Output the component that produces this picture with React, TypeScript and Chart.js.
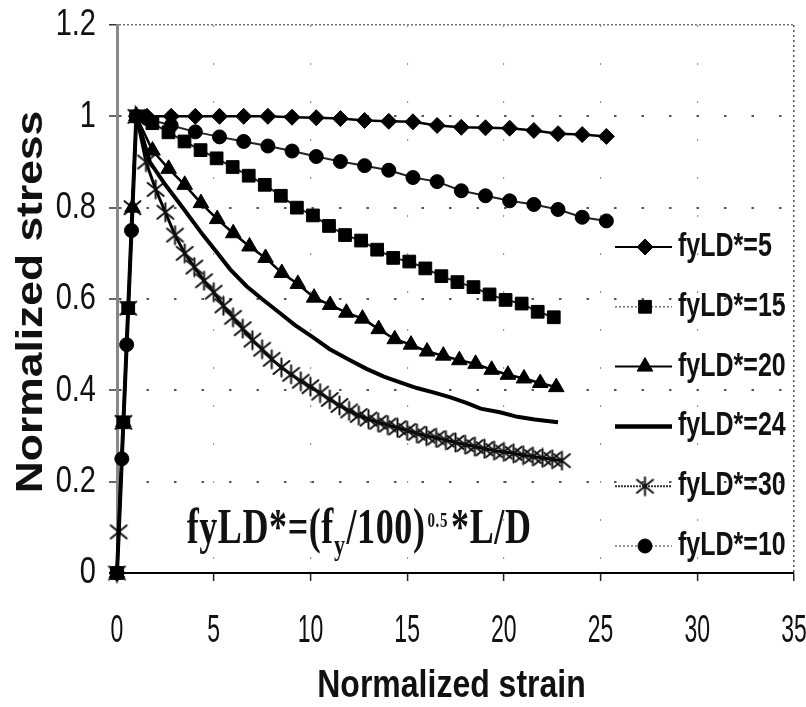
import React, { useEffect, useRef } from 'react';
import { Chart, registerables } from 'chart.js';
import { drawPoint } from 'chart.js/helpers';

Chart.register(...registerables);

// ---------- data ----------
const seriesLabels = ['fyLD*=5', 'fyLD*=15', 'fyLD*=20', 'fyLD*=24', 'fyLD*=30', 'fyLD*=10'];

const strain5 = [0, 1.0, 1.55, 2.8, 4.05, 5.3, 6.55, 7.8, 9.05, 10.3, 11.55, 12.8, 14.05, 15.3, 16.55, 17.8, 19.05, 20.3, 21.55, 22.8, 24.05, 25.3];
const stress5 = [0, 1.0, 1.0, 1.0, 1.0, 1.0, 1.0, 1.0, 0.998, 0.997, 0.995, 0.991, 0.989, 0.988, 0.98, 0.976, 0.975, 0.974, 0.969, 0.962, 0.96, 0.956];

const strain15 = [0, 0.33, 0.58, 1.0, 1.83, 2.66, 3.49, 4.32, 5.15, 5.98, 6.81, 7.64, 8.47, 9.3, 10.13, 10.96, 11.79, 12.62, 13.45, 14.28, 15.11, 15.94, 16.77, 17.6, 18.43, 19.26, 20.09, 20.92, 21.75, 22.58];
const stress15 = [0, 0.33, 0.58, 1.0, 0.985, 0.965, 0.945, 0.926, 0.908, 0.889, 0.87, 0.85, 0.826, 0.8, 0.783, 0.76, 0.74, 0.728, 0.708, 0.69, 0.682, 0.667, 0.65, 0.637, 0.626, 0.61, 0.598, 0.59, 0.572, 0.56];

const strain20 = [0, 0.33, 0.8, 1.0, 1.835, 2.67, 3.5, 4.34, 5.18, 6.01, 6.85, 7.68, 8.52, 9.35, 10.19, 11.02, 11.86, 12.69, 13.53, 14.36, 15.2, 16.03, 16.87, 17.7, 18.54, 19.37, 20.21, 21.04, 21.88, 22.71];
const stress20 = [0, 0.33, 0.8, 1.0, 0.925, 0.885, 0.85, 0.81, 0.775, 0.744, 0.715, 0.69, 0.657, 0.633, 0.603, 0.587, 0.57, 0.557, 0.534, 0.512, 0.5, 0.485, 0.476, 0.466, 0.458, 0.445, 0.434, 0.426, 0.416, 0.407];

const strain24 = [0, 1.0, 1.7, 2.5, 3.4, 4.45, 5.2, 5.85, 6.7, 7.5, 8.4, 9.2, 10.1, 11.0, 12.05, 12.9, 13.8, 14.6, 15.5, 16.4, 17.2, 18.1, 18.8, 19.8, 20.7, 21.6, 22.8];
const stress24 = [0, 1.0, 0.9, 0.85, 0.8, 0.74, 0.7, 0.665, 0.628, 0.6, 0.57, 0.543, 0.517, 0.49, 0.466, 0.447, 0.43, 0.418, 0.405, 0.395, 0.385, 0.372, 0.36, 0.352, 0.342, 0.336, 0.33];

const strain30 = [0, 0.09, 0.33, 0.58, 0.8, 1.0, 1.5, 2.0, 2.5, 3.0, 3.5, 4.0, 4.5, 5.0, 5.5, 6.0, 6.5, 7.0, 7.5, 8.0, 8.5, 9.0, 9.5, 10.0, 10.5, 11.0, 11.5, 12.0, 12.5, 13.0, 13.5, 14.0, 14.5, 15.0, 15.5, 16.0, 16.5, 17.0, 17.5, 18.0, 18.5, 19.0, 19.5, 20.0, 20.5, 21.0, 21.5, 22.0, 22.5, 23.0];
const stress30 = [0, 0.09, 0.33, 0.58, 0.8, 1.0, 0.9, 0.84, 0.79, 0.74, 0.7, 0.67, 0.64, 0.615, 0.585, 0.56, 0.535, 0.51, 0.49, 0.468, 0.45, 0.435, 0.42, 0.408, 0.394, 0.38, 0.367, 0.355, 0.345, 0.337, 0.33, 0.324, 0.318, 0.312, 0.306, 0.3, 0.296, 0.291, 0.286, 0.281, 0.277, 0.272, 0.268, 0.265, 0.262, 0.258, 0.255, 0.252, 0.249, 0.246];

const strain10 = [0, 0.25, 0.5, 0.75, 1.0, 1.55, 2.8, 4.05, 5.3, 6.55, 7.8, 9.05, 10.3, 11.55, 12.8, 14.05, 15.3, 16.55, 17.8, 19.05, 20.3, 21.55, 22.8, 24.05, 25.3];
const stress10 = [0, 0.25, 0.5, 0.75, 1.0, 0.995, 0.98, 0.966, 0.955, 0.945, 0.935, 0.924, 0.912, 0.901, 0.892, 0.882, 0.866, 0.857, 0.837, 0.826, 0.815, 0.807, 0.796, 0.779, 0.771];

const xTickValues = [0, 5, 10, 15, 20, 25, 30, 35];
const xTickLabels = ['0', '5', '10', '15', '20', '25', '30', '35'];
const yTickValues = [0, 0.2, 0.4, 0.6, 0.8, 1, 1.2];
const yTickLabels = ['0', '0.2', '0.4', '0.6', '0.8', '1', '1.2'];

const xTitle = 'Normalized strain';
const yTitle = 'Normalized stress';
const formulaParts = ['fyLD*=(f', 'y', '/100)', '0.5', '*L/D'];

// ---------- helpers ----------
function makeAsterisk(): HTMLCanvasElement {
  const c = document.createElement('canvas');
  c.width = 21;
  c.height = 21;
  const g = c.getContext('2d')!;
  g.strokeStyle = '#111';
  g.lineWidth = 2;
  g.lineCap = 'round';
  g.beginPath();
  g.moveTo(10.5, 1.5);
  g.lineTo(10.5, 19.5);
  g.moveTo(2.5, 4);
  g.lineTo(18.5, 17);
  g.moveTo(18.5, 4);
  g.lineTo(2.5, 17);
  g.stroke();
  return c;
}

function stretchText(ctx: CanvasRenderingContext2D, text: string, x: number, y: number, sx: number, sy: number) {
  ctx.save();
  ctx.translate(x, y);
  ctx.scale(sx, sy);
  ctx.fillText(text, 0, 0);
  ctx.restore();
}

const pts = (xs: number[], ys: number[]) => xs.map((x, i) => ({ x, y: ys[i] }));

const legendLineStyles = [
  { color: '#000', width: 2, dash: [] as number[] },
  { color: '#777', width: 1.5, dash: [2, 2] },
  { color: '#000', width: 2, dash: [] as number[] },
  { color: '#000', width: 4.5, dash: [] as number[] },
  { color: '#333', width: 2, dash: [2, 1] },
  { color: '#777', width: 1.5, dash: [2, 2] },
];

const textPlugin = {
  id: 'customText',
  afterDraw(chart: any) {
    const ctx: CanvasRenderingContext2D = chart.ctx;
    const xs = chart.scales.x;
    const ys = chart.scales.y;
    const area = chart.chartArea;
    ctx.save();
    ctx.fillStyle = '#111';

    // y tick labels
    ctx.font = '29px "Liberation Sans", Arial, sans-serif';
    ctx.textAlign = 'right';
    ctx.textBaseline = 'middle';
    yTickValues.forEach((v, i) => {
      stretchText(ctx, yTickLabels[i], area.left - 21, ys.getPixelForValue(v), 1, 1.3);
    });

    // x tick labels
    ctx.font = '23px "Liberation Sans", Arial, sans-serif';
    ctx.textAlign = 'center';
    xTickValues.forEach((v, i) => {
      stretchText(ctx, xTickLabels[i], xs.getPixelForValue(v), area.bottom + 58, 1, 1.7);
    });

    // x title
    ctx.font = 'bold 32px "Liberation Sans", Arial, sans-serif';
    ctx.textAlign = 'center';
    ctx.textBaseline = 'alphabetic';
    stretchText(ctx, xTitle, (area.left + area.right) / 2 - 4, area.bottom + 124, 1, 1.2);

    // y title (rotated)
    ctx.save();
    ctx.font = 'bold 37px "Liberation Sans", Arial, sans-serif';
    ctx.translate(42, (area.top + area.bottom) / 2 + 3);
    ctx.rotate(-Math.PI / 2);
    ctx.scale(1.2, 1);
    ctx.textAlign = 'center';
    ctx.textBaseline = 'alphabetic';
    ctx.fillText(yTitle, 0, 0);
    ctx.restore();

    // formula annotation
    ctx.save();
    (ctx as any).letterSpacing = '0.6px';
    let fx = xs.getPixelForValue(3.6);
    const fy = ys.getPixelForValue(0.065);
    ctx.textAlign = 'left';
    ctx.textBaseline = 'alphabetic';
    const serif = '"Liberation Serif", "Times New Roman", serif';
    const big = 'bold 36px ' + serif;
    ctx.font = big;
    stretchText(ctx, formulaParts[0], fx, fy, 1, 1.38);
    fx += ctx.measureText(formulaParts[0]).width;
    ctx.font = 'bold 22px ' + serif;
    stretchText(ctx, formulaParts[1], fx, fy + 12, 1, 1.38);
    fx += ctx.measureText(formulaParts[1]).width + 1;
    ctx.font = big;
    stretchText(ctx, formulaParts[2], fx, fy, 1, 1.38);
    fx += ctx.measureText(formulaParts[2]).width + 2;
    ctx.font = 'bold 15px ' + serif;
    stretchText(ctx, formulaParts[3], fx, fy - 16, 1, 1.38);
    fx += ctx.measureText(formulaParts[3]).width + 3;
    ctx.font = big;
    stretchText(ctx, formulaParts[4], fx, fy, 1, 1.38);
    ctx.restore();

    // legend
    const ds = chart.data.datasets;
    const x1 = area.right - 179;
    const x2 = area.right - 122;
    const mx = area.right - 149;
    const tx = area.right - 116;
    for (let i = 0; i < ds.length; i++) {
      const y = area.bottom - 27 - (ds.length - 1 - i) * 59.8;
      const st = legendLineStyles[i];
      ctx.save();
      ctx.strokeStyle = st.color;
      ctx.lineWidth = st.width;
      ctx.setLineDash(st.dash);
      ctx.beginPath();
      ctx.moveTo(x1, y);
      ctx.lineTo(x2, y);
      ctx.stroke();
      ctx.restore();
      const d = ds[i];
      if (d.pointRadius > 0) {
        ctx.save();
        ctx.fillStyle = d.pointBackgroundColor;
        ctx.strokeStyle = d.pointBorderColor;
        ctx.lineWidth = d.pointBorderWidth;
        drawPoint(ctx, { pointStyle: d.pointStyle, rotation: 0, radius: d.pointRadius, borderWidth: d.pointBorderWidth } as any, mx, y);
        ctx.restore();
      }
      ctx.fillStyle = '#111';
      ctx.font = 'bold 25px "Liberation Sans", Arial, sans-serif';
      ctx.textAlign = 'left';
      ctx.textBaseline = 'middle';
      stretchText(ctx, d.label, tx, y, 1, 1.3);
    }
    ctx.restore();
  },
};

export default function App() {
  const ref = useRef<HTMLCanvasElement>(null);
  useEffect(() => {
    document.body.style.margin = '0';
    const asterisk = makeAsterisk();
    const base = { borderColor: '#000', pointBackgroundColor: '#000', pointBorderColor: '#000', pointBorderWidth: 1, tension: 0, clip: false as any };
    const chart = new Chart(ref.current!, {
      type: 'line',
      data: {
        datasets: [
          { ...base, label: seriesLabels[0], data: pts(strain5, stress5), borderWidth: 2.5, pointStyle: 'rectRot', pointRadius: 8 },
          { ...base, label: seriesLabels[1], data: pts(strain15, stress15), borderWidth: 2, borderColor: '#222', pointStyle: 'rect', pointRadius: 9 },
          { ...base, label: seriesLabels[2], data: pts(strain20, stress20), borderWidth: 2.5, pointStyle: 'triangle', pointRadius: 9 },
          { ...base, label: seriesLabels[3], data: pts(strain24, stress24), borderWidth: 4, pointRadius: 0 },
          { ...base, label: seriesLabels[4], data: pts(strain30, stress30), borderWidth: 3, pointStyle: asterisk as any, pointRadius: 10 },
          { ...base, label: seriesLabels[5], data: pts(strain10, stress10), borderWidth: 2, borderColor: '#222', pointStyle: 'circle', pointRadius: 7 },
        ] as any,
      },
      options: {
        animation: false,
        responsive: false,
        events: [],
        layout: { padding: { left: 0, right: 12, top: 25, bottom: 0 } },
        plugins: { legend: { display: false }, tooltip: { enabled: false } },
        scales: {
          x: {
            type: 'linear',
            min: 0,
            max: 35,
            afterBuildTicks: (s: any) => {
              s.ticks = xTickValues.map((v) => ({ value: v }));
            },
            afterFit: (s: any) => {
              s.height = 134;
            },
            ticks: { display: false },
            grid: {
              color: (c: any) => (c.tick && c.tick.value === 35 ? '#555' : c.tick && c.tick.value === 0 ? 'rgba(0,0,0,0)' : '#9a9a9a'),
              lineWidth: (c: any) => (c.tick && c.tick.value === 35 ? 1.5 : 1.2),
              tickLength: 8,
              tickColor: '#222',
              tickWidth: 1.5,
              tickBorderDash: [],
            },
            border: {
              display: true,
              color: '#000',
              width: 2,
              dash: (c: any) => (c.tick && c.tick.value === 35 ? [2, 3] : [2, 36]),
            },
          },
          y: {
            type: 'linear',
            min: 0,
            max: 1.2,
            afterBuildTicks: (s: any) => {
              s.ticks = yTickValues.map((v) => ({ value: v }));
            },
            afterFit: (s: any) => {
              s.width = 117;
            },
            ticks: { display: false },
            grid: {
              color: (c: any) => (c.tick && c.tick.value === 0 ? 'rgba(0,0,0,0)' : c.tick && c.tick.value === 1.2 ? '#777' : '#555'),
              lineWidth: (c: any) => (c.tick && c.tick.value === 1.2 ? 1.5 : 2),
              tickLength: 8,
              tickColor: '#333',
              tickWidth: 1.5,
              tickBorderDash: [],
            },
            border: {
              display: true,
              color: '#888',
              width: 3,
              dash: (c: any) => (c.tick && c.tick.value === 1.2 ? [2, 2] : [2.5, 25]),
            },
          },
        },
      } as any,
      plugins: [textPlugin],
    });
    return () => chart.destroy();
  }, []);
  return (
    <div style={{ width: 806, height: 707 }}>
      <canvas ref={ref} width={806} height={707} style={{ display: 'block' }} />
    </div>
  );
}
